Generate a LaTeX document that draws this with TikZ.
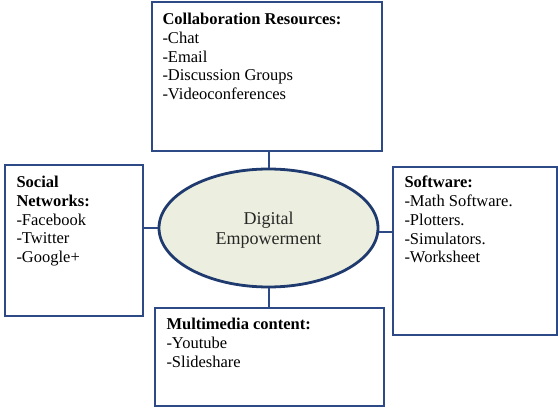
\documentclass[tikz,border=0pt]{standalone}
\usepackage{fontspec}
\setmainfont{Liberation Serif}
\usetikzlibrary{shapes.geometric,calc}
\definecolor{boxblue}{HTML}{2E4A86}
\definecolor{ellblue}{HTML}{1F3A6E}
\definecolor{ellfill}{HTML}{ECEFDF}
\begin{document}
\begin{tikzpicture}[x=1pt,y=-1pt,
  boxst/.style={draw=boxblue,line width=1.4pt,fill=white,rectangle,inner sep=0pt},
  txt/.style={anchor=north west,inner sep=0pt,align=left,font=\fontsize{16.5}{18.8}\selectfont},
  link/.style={draw=boxblue,line width=2pt}]
\useasboundingbox (0,0) rectangle (558,409);
\node[boxst,minimum width=230pt,minimum height=149pt] (top) at (267,76.5) {};
\node[boxst,minimum width=138pt,minimum height=151pt] (left) at (74,240.5) {};
\node[boxst,minimum width=164pt,minimum height=168pt] (right) at (475,251) {};
\node[boxst,minimum width=229pt,minimum height=98pt] (bot) at (269.5,357) {};
\node[ellipse,draw=ellblue,line width=2.8pt,fill=ellfill,minimum width=219pt,minimum height=118pt,inner sep=0pt,
  align=center,text=black!85,font=\fontsize{18}{20}\selectfont] (ell) at (268.5,228) {};
\node[align=center,inner sep=0pt,text=black!85,font=\fontsize{18}{20}\selectfont] (elltext) at ($(ell.center)+(0,2)$) {Digital\\Empowerment};
\draw[link] (ell.north) -- (ell.north |- top.south);
\draw[link] (ell.west) -- (ell.west -| left.east);
\draw[link] (ell.-2.6) -- (ell.-2.6 -| right.west);
\draw[link] (ell.south) -- (ell.south |- bot.north);
\node[txt] (ttop) at ($(top.north west)+(11,11.5)$) {\textbf{Collaboration Resources:}\\-Chat\\-Email\\-Discussion Groups\\-Videoconferences};
\node[txt] (tleft) at ($(left.north west)+(12,11.5)$) {\textbf{Social}\\\textbf{Networks:}\\-Facebook\\-Twitter\\-Google+};
\node[txt] (tright) at ($(right.north west)+(12,9.5)$) {\textbf{Software:}\\-Math Software.\\-Plotters.\\-Simulators.\\-Worksheet};
\node[txt] (tbot) at ($(bot.north west)+(12,10.5)$) {\textbf{Multimedia content:}\\-Youtube\\-Slideshare};
\end{tikzpicture}
\end{document}
